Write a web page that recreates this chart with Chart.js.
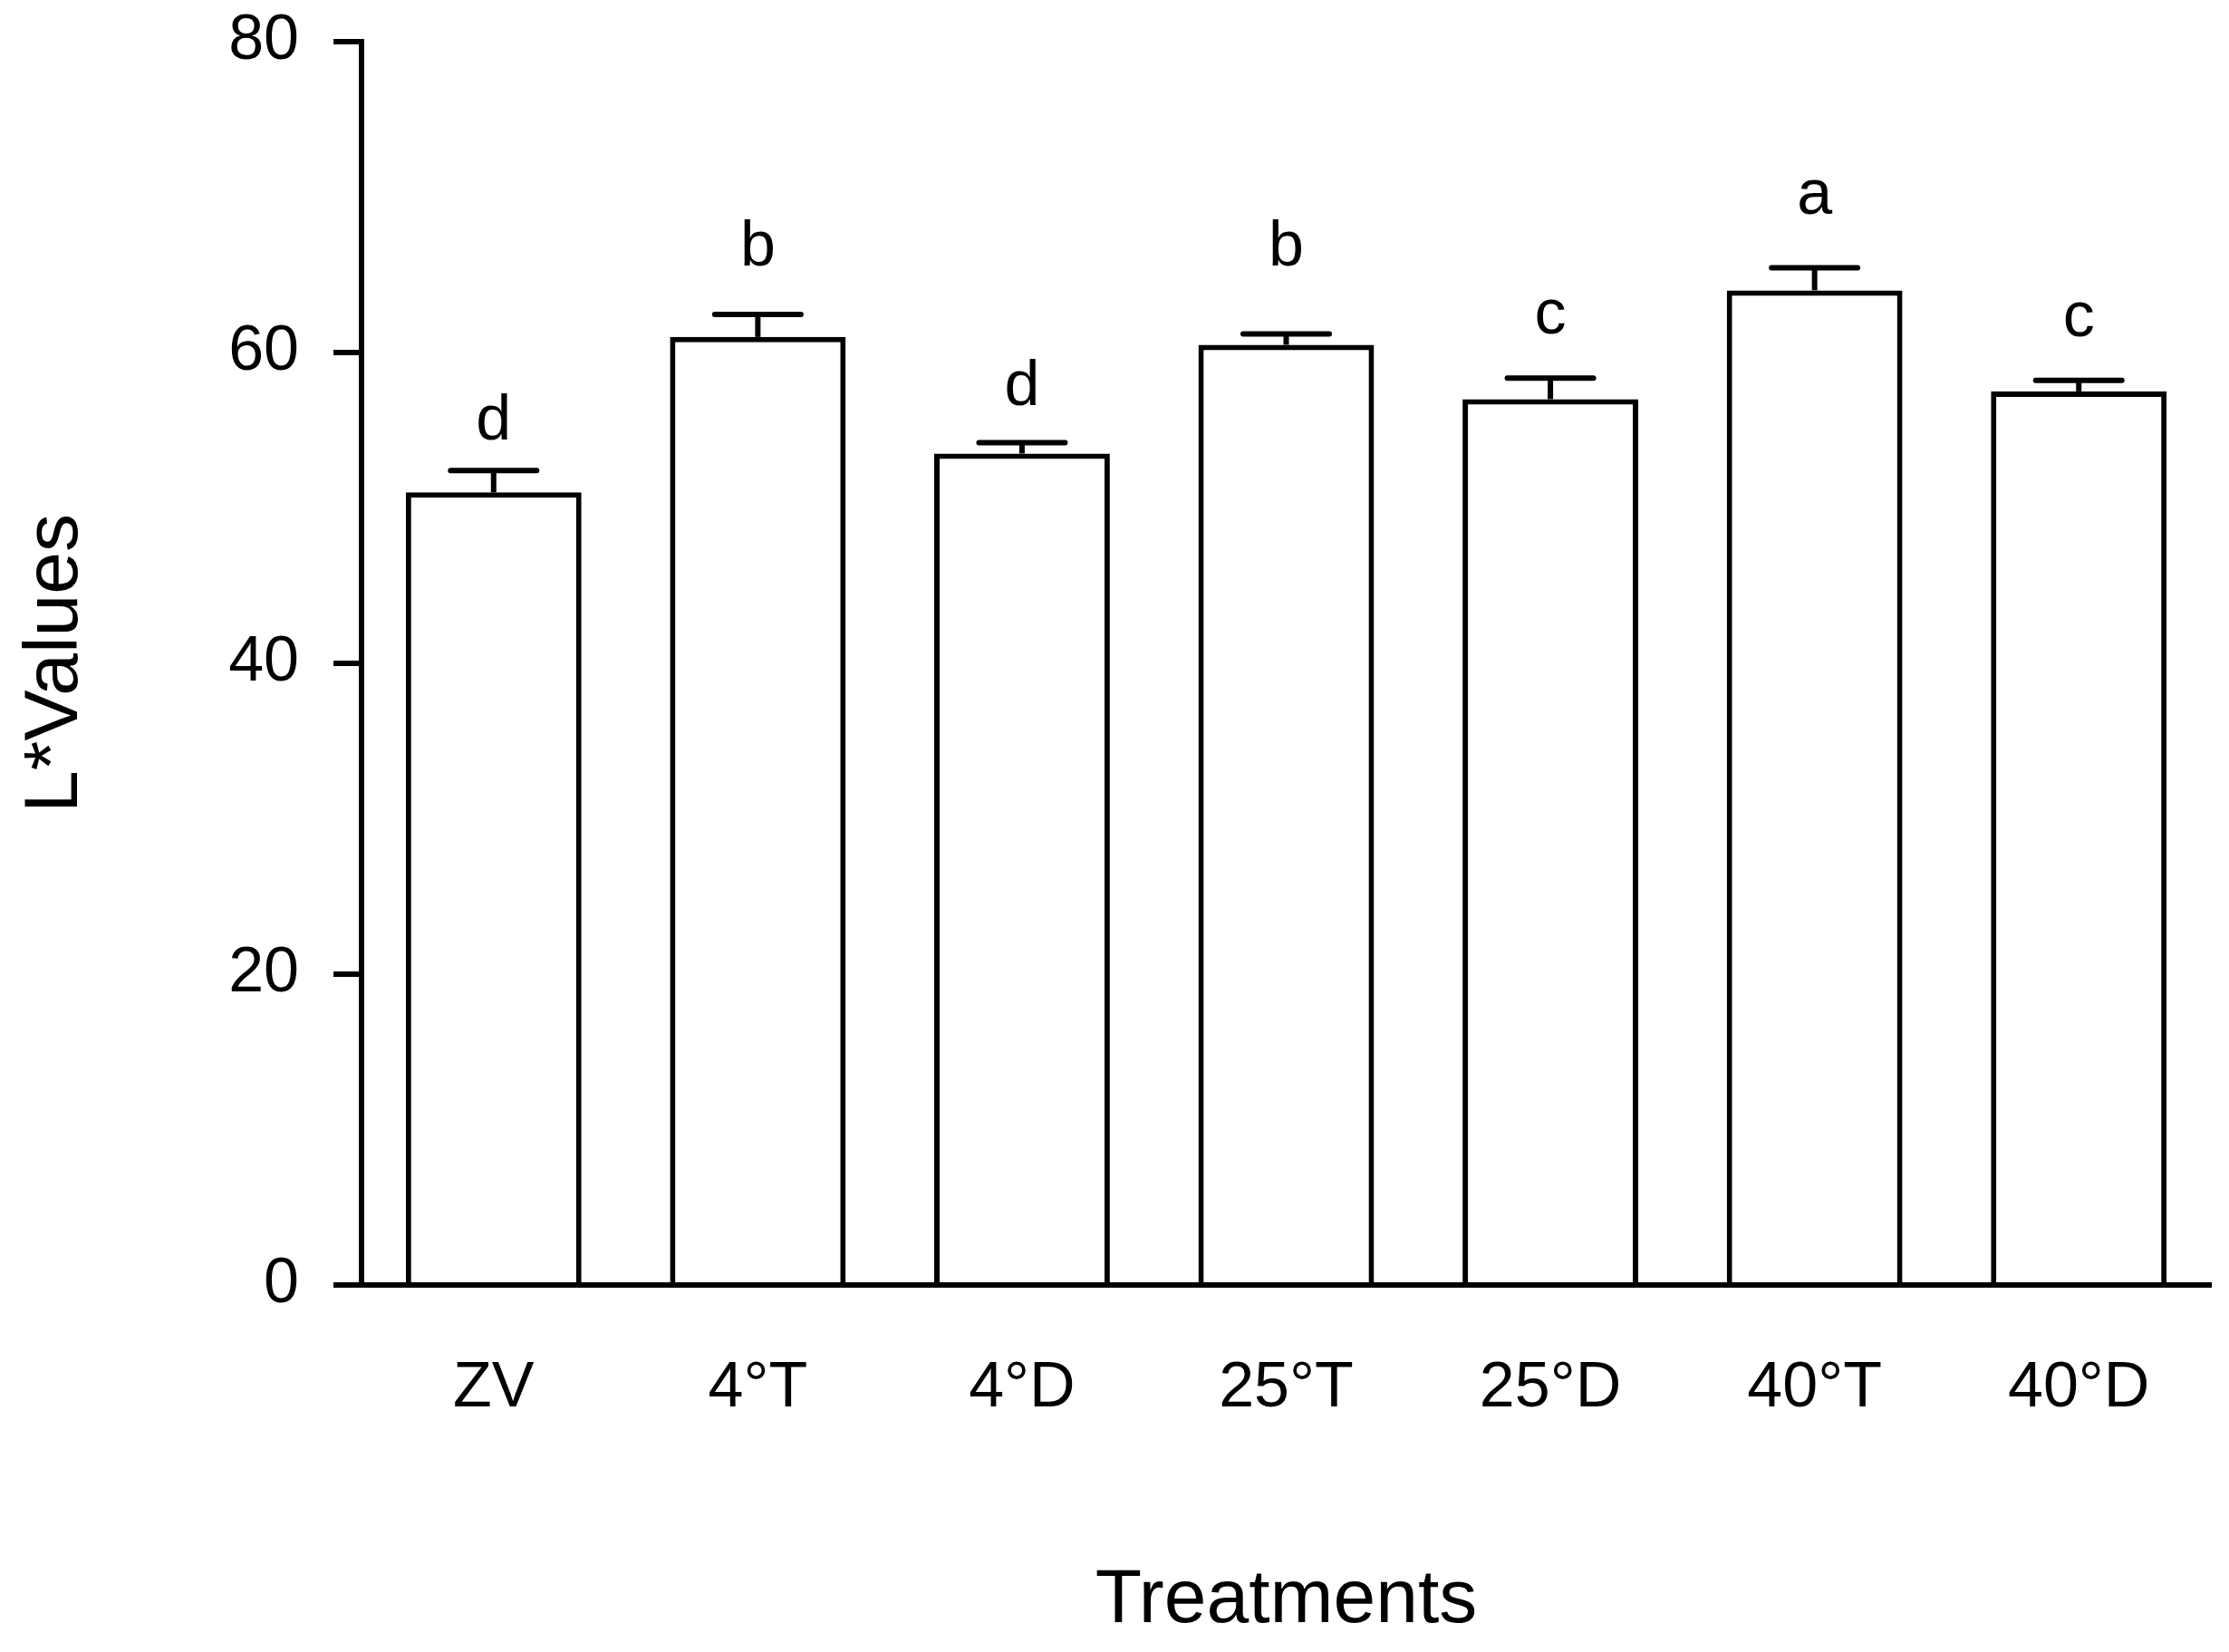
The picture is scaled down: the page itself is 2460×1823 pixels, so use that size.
<!DOCTYPE html>
<html>
<head>
<meta charset="utf-8">
<script src="https://cdn.jsdelivr.net/npm/chart.js@4.4.0/dist/chart.umd.min.js"></script>
<style>
  html, body { margin: 0; padding: 0; background: #ffffff; }
  #wrap { width: 2460px; height: 1823px; }
</style>
</head>
<body>
<div id="wrap"><canvas id="c" width="2460" height="1823"></canvas></div>
<script>
const categories = ['ZV', '4°T', '4°D', '25°T', '25°D', '40°T', '40°D'];
const meanValues = [51.0, 61.0, 53.5, 60.5, 57.0, 64.0, 57.5];
const errorValues = [1.4, 1.45, 0.7, 0.7, 1.35, 1.45, 0.7];
const letterLabels = ['d', 'b', 'd', 'b', 'c', 'a', 'c'];
const letterLevels = [54.4, 65.6, 56.6, 65.6, 61.2, 68.9, 61.05];
const yTicks = [0, 20, 40, 60, 80];

const FONT = "'Liberation Sans', Arial, Helvetica, sans-serif";

const errorBarPlugin = {
  id: 'errorBars',
  afterDatasetsDraw(chart) {
    const ctx = chart.ctx;
    const yScale = chart.scales.y;
    const meta = chart.getDatasetMeta(0);
    ctx.save();
    ctx.strokeStyle = '#000';
    ctx.fillStyle = '#000';
    ctx.lineWidth = 6;
    meta.data.forEach((bar, i) => {
      const x = bar.x;
      const yTop = yScale.getPixelForValue(meanValues[i]);
      const yErr = yScale.getPixelForValue(meanValues[i] + errorValues[i]);
      const half = bar.width * 0.245;
      ctx.lineCap = 'butt';
      ctx.beginPath();
      ctx.moveTo(x, yTop);
      ctx.lineTo(x, yErr);
      ctx.stroke();
      ctx.lineCap = 'round';
      ctx.beginPath();
      ctx.moveTo(x - half, yErr);
      ctx.lineTo(x + half, yErr);
      ctx.stroke();
      ctx.font = '70px ' + FONT;
      ctx.textAlign = 'center';
      ctx.textBaseline = 'alphabetic';
      ctx.fillText(letterLabels[i], x, yScale.getPixelForValue(letterLevels[i]));
    });
    ctx.restore();
  }
};

new Chart(document.getElementById('c'), {
  type: 'bar',
  data: {
    labels: categories,
    datasets: [{
      data: meanValues,
      backgroundColor: '#ffffff',
      borderColor: '#000000',
      borderWidth: 6,
      borderSkipped: 'bottom',
      barPercentage: 0.665,
      categoryPercentage: 1.0
    }]
  },
  options: {
    responsive: false,
    devicePixelRatio: 1,
    animation: false,
    events: [],
    layout: { padding: { left: 0, top: 46, right: 20, bottom: 0 } },
    plugins: { legend: { display: false }, tooltip: { enabled: false } },
    scales: {
      x: {
        grid: { display: false, drawTicks: false },
        border: { display: true, color: '#000', width: 6 },
        ticks: { color: '#000', font: { family: FONT, size: 70 }, padding: 73, maxRotation: 0, autoSkip: false },
        title: { display: true, text: 'Treatments', color: '#000', font: { family: FONT, size: 84 }, padding: { top: 0, bottom: 6 } },
        afterFit(scale) { scale.height = 405; scale.paddingLeft = 0; scale.paddingRight = 0; }
      },
      y: {
        min: 0, max: 80,
        afterBuildTicks(scale) { scale.ticks = yTicks.map(v => ({ value: v })); },
        grid: { display: true, drawOnChartArea: false, drawTicks: true, tickLength: 31, color: '#000', lineWidth: 6 },
        border: { display: true, color: '#000', width: 6 },
        ticks: { color: '#000', font: { family: FONT, size: 70 }, padding: 38 },
        title: { display: true, text: 'L*Values', color: '#000', font: { family: FONT, size: 84 }, padding: { top: 11, bottom: 0 } },
        afterFit(scale) { scale.width = 399; scale.paddingTop = 0; scale.paddingBottom = 0; }
      }
    }
  },
  plugins: [errorBarPlugin]
});
</script>
</body>
</html>
